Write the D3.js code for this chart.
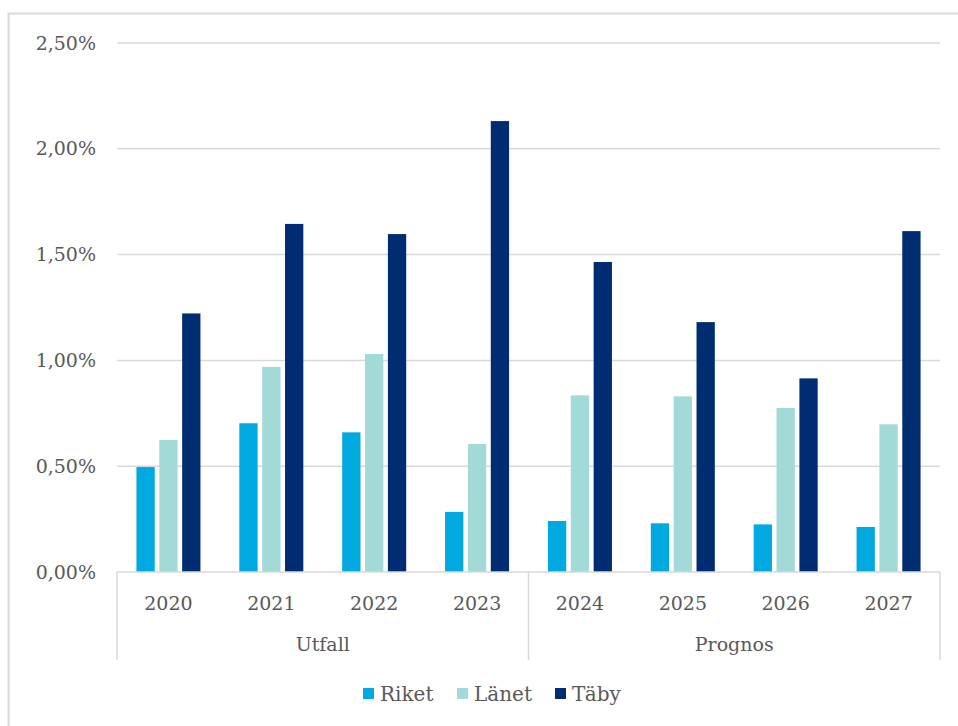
<!DOCTYPE html>
<html>
<head>
<meta charset="utf-8">
<script src="https://cdn.jsdelivr.net/npm/d3@7"></script>
<style>
  body { margin: 0; background: #fff; }
  text { font-family: "DejaVu Serif", Georgia, serif; fill: #595959; }
</style>
</head>
<body>
<div id="chart"></div>
<script>
var years = ["2020", "2021", "2022", "2023", "2024", "2025", "2026", "2027"];
var groups = [
  { name: "Utfall", from: "2020", to: "2023" },
  { name: "Prognos", from: "2024", to: "2027" }
];
var seriesNames = ["Riket", "Länet", "Täby"];
var riket = [0.496, 0.703, 0.660, 0.284, 0.241, 0.230, 0.225, 0.213];
var lanet = [0.624, 0.969, 1.030, 0.605, 0.835, 0.830, 0.775, 0.698];
var taby  = [1.222, 1.645, 1.597, 2.131, 1.465, 1.181, 0.915, 1.611];
var yTicks = [0, 0.5, 1.0, 1.5, 2.0, 2.5];
var colors = ["#00a9e0", "#a2dad8", "#002d72"];

var props = { width: 958, height: 726, left: 117, right: 940, top: 43, bottom: 572 };

var svg = d3.select("#chart").append("svg")
  .attr("width", props.width).attr("height", props.height);

// outer frame (left + top only visible)
svg.append("path")
  .attr("d", "M8.5,726 L8.5,13.5 L958,13.5")
  .style("fill", "none").style("stroke", "#d9d9d9").style("stroke-width", 2);

var x0 = d3.scaleBand().domain(years).range([props.left, props.right]);
var groupWidth = 64;
var x1 = d3.scaleBand().domain(seriesNames).range([0, groupWidth]).paddingInner(0.2);
var y = d3.scaleLinear().domain([0, 2.5]).range([props.bottom, props.top]);

var fmt = function(d){ return d.toFixed(2).replace(".", ",") + "%"; };

// gridlines
svg.selectAll(".grid").data(yTicks.filter(function(d){ return d > 0; }))
  .enter().append("line")
  .attr("class", "grid")
  .attr("x1", props.left).attr("x2", props.right)
  .attr("y1", function(d){ return y(d); }).attr("y2", function(d){ return y(d); })
  .style("stroke", "#d9d9d9").style("stroke-width", 1.5);

// y labels
svg.selectAll(".ylab").data(yTicks).enter().append("text")
  .attr("class", "ylab")
  .attr("x", 96).attr("y", function(d){ return y(d); })
  .attr("dy", "0.35em")
  .attr("text-anchor", "end")
  .style("font-size", "19px")
  .text(fmt);

// bars
var data = years.map(function(yr, i){
  return { year: yr, values: [riket[i], lanet[i], taby[i]] };
});
var g = svg.selectAll(".year").data(data).enter().append("g")
  .attr("class", "year")
  .attr("transform", function(d){ return "translate(" + (x0(d.year) + (x0.bandwidth() - groupWidth) / 2) + ",0)"; });
g.selectAll("rect").data(function(d){
    return d.values.map(function(v, j){ return { name: seriesNames[j], value: v, color: colors[j] }; });
  })
  .enter().append("rect")
  .attr("x", function(d){ return x1(d.name); })
  .attr("width", x1.bandwidth())
  .attr("y", function(d){ return y(d.value); })
  .attr("height", function(d){ return y(0) - y(d.value); })
  .style("fill", function(d){ return d.color; });

// category axis line
svg.append("line")
  .attr("x1", props.left).attr("x2", props.right)
  .attr("y1", props.bottom).attr("y2", props.bottom)
  .style("stroke", "#d9d9d9").style("stroke-width", 1.5);

// group dividers
var dividers = [props.left, x0(groups[1].from), props.right];
svg.selectAll(".div").data(dividers).enter().append("line")
  .attr("x1", function(d){ return d; }).attr("x2", function(d){ return d; })
  .attr("y1", props.bottom).attr("y2", 660)
  .style("stroke", "#d9d9d9").style("stroke-width", 1.5);

// year labels
svg.selectAll(".xlab").data(years).enter().append("text")
  .attr("x", function(d){ return x0(d) + x0.bandwidth() / 2; })
  .attr("y", 610)
  .attr("text-anchor", "middle")
  .style("font-size", "19px")
  .text(function(d){ return d; });

// group labels
svg.selectAll(".glab").data(groups).enter().append("text")
  .attr("x", function(d){ return (x0(d.from) + x0(d.to) + x0.bandwidth()) / 2; })
  .attr("y", 651)
  .attr("text-anchor", "middle")
  .style("font-size", "19px")
  .text(function(d){ return d.name; });

// legend
var legendX = [363, 457, 555];
var lg = svg.selectAll(".legend").data(seriesNames).enter().append("g")
  .attr("transform", function(d, i){ return "translate(" + legendX[i] + ",694)"; });
lg.append("rect").attr("x", 0).attr("y", -6).attr("width", 11).attr("height", 11)
  .style("fill", function(d, i){ return colors[i]; });
lg.append("text").attr("x", 17).attr("y", 0).attr("dy", "0.35em")
  .style("font-size", "20px")
  .text(function(d){ return d; });
</script>
</body>
</html>
